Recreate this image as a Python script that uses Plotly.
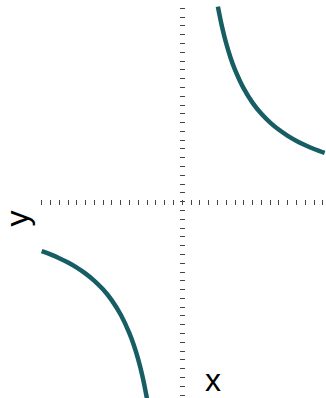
import plotly.graph_objects as go

# Data (tick units)
upper_x = [4.05, 4.5, 5.0, 5.5, 6.0, 7.0, 8.0, 9.0, 10.0, 11.0, 12.0, 13.0, 14.0, 15.0, 16.2]
upper_y = [22.2, 20.0, 18.0, 16.36, 15.0, 12.86, 11.25, 10.0, 9.0, 8.18, 7.5, 6.92, 6.43, 6.0, 5.56]
lower_x = [-16.0, -15.0, -14.0, -13.0, -12.0, -11.0, -10.0, -9.0, -8.0, -7.0, -6.0, -5.5, -5.0, -4.5, -4.0]
lower_y = [-5.63, -6.0, -6.43, -6.92, -7.5, -8.18, -9.0, -10.0, -11.25, -12.86, -15.0, -16.36, -18.0, -20.0, -22.5]
x_ticks = list(range(-16, 17))
y_ticks = list(range(-22, 23))
x_label = "x"
y_label = "y"

W, H = 326, 398
XMIN, XMAX = -20.74, 16.35
YMIN, YMAX = -22.33, 22.95
COLOR = "#175e64"

fig = go.Figure()
for xs, ys in [(upper_x, upper_y), (lower_x, lower_y)]:
    fig.add_trace(go.Scatter(x=xs, y=ys, mode="lines",
                             line=dict(color=COLOR, width=4.5, shape="spline"),
                             hoverinfo="skip", showlegend=False))

TL = 5
# positions of axes at zero, shifted so ticks are centred on zero line
y0_frac = (0 - YMIN) / (YMAX - YMIN) + (TL / 2) / H
x0_frac = (0 - XMIN) / (XMAX - XMIN) + (TL / 2) / W

fig.update_layout(
    width=W, height=H,
    margin=dict(l=0, r=0, t=0, b=0),
    paper_bgcolor="white", plot_bgcolor="white",
    xaxis=dict(range=[XMIN, XMAX], showgrid=False, zeroline=False, showline=False,
               tickvals=x_ticks, ticks="outside", ticklen=TL, tickwidth=1, tickcolor="#444",
               showticklabels=False, anchor="free", position=y0_frac),
    yaxis=dict(range=[YMIN, YMAX], showgrid=False, zeroline=False, showline=False,
               tickvals=y_ticks, ticks="outside", ticklen=TL, tickwidth=1, tickcolor="#444",
               showticklabels=False, anchor="free", position=x0_frac),
    font=dict(family="Liberation Sans, Arial, sans-serif", color="black"),
)

fig.add_annotation(x=3.49, y=-20.3, xref="x", yref="y", text=x_label, showarrow=False,
                   font=dict(size=32, color="black"), xanchor="center", yanchor="middle")
fig.add_annotation(x=-18.8, y=-1.9, xref="x", yref="y", text=y_label, showarrow=False,
                   textangle=-90, font=dict(size=32, color="black"),
                   xanchor="center", yanchor="middle")

fig.write_html("out.html", config={"displayModeBar": False},
               post_script="document.body.style.margin='0';document.body.style.overflow='hidden';")
